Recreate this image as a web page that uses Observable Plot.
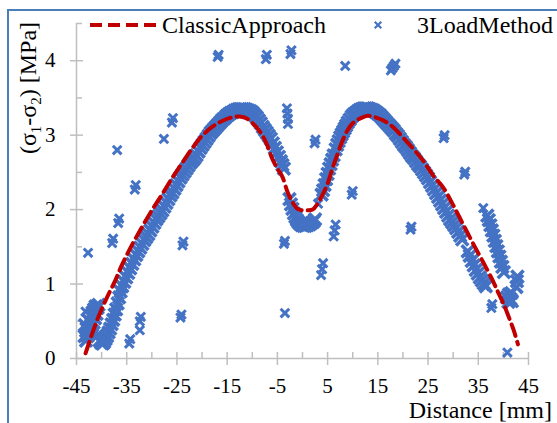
<!DOCTYPE html>
<html><head><meta charset="utf-8">
<script src="https://cdn.jsdelivr.net/npm/d3@7"></script>
<script src="https://cdn.jsdelivr.net/npm/@observablehq/plot@0.6"></script>
<style>
html,body{margin:0;padding:0;background:#fff;overflow:hidden;width:557px;height:423px;}
#wrap{position:relative;width:557px;height:423px;font-family:"Liberation Serif","Times New Roman",serif;color:#000;}
#frame{position:absolute;left:7px;top:9px;width:620px;height:520px;border:2px solid #4a7ebb;box-sizing:border-box;pointer-events:none;}
#chart{position:absolute;left:0;top:0;}
</style></head>
<body><div id="wrap"><div id="frame"></div><div id="chart"></div></div>
<script>
// ClassicApproach (red dashed curve)
const classicX = [-43.2,-42.2,-41.2,-40.2,-39.2,-38.2,-37.2,-36.0,-34.0,-32.0,-30.0,-28.0,-26.0,-24.0,-22.0,-20.0,-18.0,-16.0,-14.0,-12.5,-11.0,-9.5,-8.0,-7.0,-6.0,-5.0,-4.0,-3.0,-2.0,-1.0,0,1,2,3,4,5,6,7,8,9,10,11,12,13,14,16,18,20,22,24,26,28,30,32,34,36,38,39,40,41,42,42.9];
const classicY = [0.07,0.27,0.46,0.63,0.78,0.92,1.06,1.25,1.52,1.76,1.99,2.2,2.42,2.62,2.82,2.99,3.11,3.19,3.24,3.25,3.22,3.13,3.0,2.86,2.68,2.55,2.44,2.24,2.1,2.01,1.99,1.99,2.0,2.08,2.2,2.35,2.56,2.75,2.93,3.07,3.16,3.21,3.24,3.26,3.25,3.2,3.11,2.97,2.82,2.66,2.46,2.3,2.06,1.8,1.54,1.29,1.03,0.88,0.74,0.57,0.39,0.19];

// 3LoadMethod (blue x markers): dense main band of points
const bandX = [
 -43.4,-43.3,-43.1,-43.0,-42.8,-42.7,-42.5,-42.4,-42.2,-42.1,-41.9,-41.8,-41.6,-41.5,-41.3,-41.2,-41.0,-40.8,-40.6,
 -40.7,-40.4,-40.1,-39.8,-39.5,-39.2,-38.9,-38.6,-38.3,-38.0,-37.7,-37.4,-37.1,-36.8,-36.5,-36.2,-35.9,
 -35.5,-35.1,-34.7,-34.3,-33.9,-33.5,-33.1,-32.7,-32.3,-31.9,-31.5,-31.1,-30.7,-30.3,-29.9,-29.5,-29.1,-28.7,-28.3,-27.9,
 -27.5,-27.1,-26.7,-26.3,-25.9,-25.5,-25.1,-24.7,-24.3,-23.9,-23.5,-23.1,-22.7,-22.3,-21.9,-21.5,-21.1,-20.7,-20.3,-19.9,
 -19.5,-19.1,-18.7,-18.3,-17.9,-17.5,-17.1,-16.7,-16.3,-15.9,-15.5,-15.1,-14.7,-14.3,-13.9,-13.5,-13.1,-12.7,-12.3,-11.9,
 -11.5,-11.1,-10.7,-10.3,-9.9,-9.5,-9.1,-8.7,-8.3,-7.9,-7.5,-7.1,-6.7,-6.3,-5.9,-5.5,-5.1,-4.7,-4.3,-4.0,-3.7,
 -2.6,-2.3,-2.0,-1.7,-1.4,-1.1,-0.8,-0.5,-0.2,0.2,0.6,1.0,1.4,1.8,2.2,2.5,
 3.8,4.1,4.4,4.7,5.0,5.3,5.6,5.9,6.2,6.6,6.9,7.2,7.5,7.8,8.1,8.4,8.7,9.0,9.4,9.8,
 10.2,10.6,11.0,11.4,11.8,12.2,12.6,13.0,13.4,13.8,14.2,14.6,15.0,15.4,15.8,16.2,16.6,17.0,17.4,17.8,
 18.2,18.6,19.0,19.4,19.8,20.2,20.6,21.0,21.4,21.8,22.2,22.6,23.0,23.4,23.8,24.2,24.6,25.0,25.4,25.8,
 26.2,26.6,27.0,27.4,27.8,28.2,28.6,29.0,29.4,29.8,30.2,30.6,31.0,31.4,31.8,
 32.9,33.3,33.7,34.1,34.5,34.9,35.3,35.7,36.1,36.5,
 36.8,37.1,37.4,37.7,38.0,38.3,38.6,38.9,39.2,39.5,39.8,40.1,
 40.7,41.0,41.1,41.4,41.7,41.6,42.6,42.7,42.8
];
const bandY = [
 0.30,0.45,0.24,0.40,0.30,0.52,0.34,0.50,0.38,0.58,0.44,0.62,0.48,0.66,0.54,0.70,0.60,0.68,0.72,
 0.32,0.24,0.21,0.20,0.22,0.26,0.30,0.35,0.40,0.46,0.52,0.59,0.66,0.74,0.82,0.90,0.97,
 1.03,1.09,1.15,1.21,1.27,1.33,1.39,1.44,1.49,1.54,1.59,1.63,1.67,1.72,1.77,1.82,1.87,1.91,1.95,1.99,
 2.04,2.09,2.14,2.19,2.23,2.28,2.33,2.38,2.43,2.47,2.51,2.55,2.59,2.63,2.66,2.69,2.73,2.78,2.83,2.87,
 2.91,2.95,2.99,3.03,3.06,3.09,3.12,3.15,3.18,3.21,3.23,3.26,3.28,3.30,3.31,3.33,3.34,3.35,3.35,3.35,
 3.35,3.34,3.33,3.32,3.30,3.27,3.24,3.20,3.16,3.11,3.07,3.03,2.99,2.95,2.89,2.83,2.77,2.71,2.65,2.60,2.55,
 2.14,2.07,2.01,1.95,1.90,1.86,1.83,1.81,1.79,1.78,1.78,1.79,1.80,1.82,1.84,1.87,
 2.20,2.26,2.33,2.41,2.48,2.55,2.61,2.67,2.73,2.81,2.87,2.92,2.97,3.01,3.05,3.09,3.13,3.17,3.21,3.25,
 3.28,3.30,3.32,3.34,3.35,3.36,3.36,3.36,3.35,3.34,3.33,3.31,3.29,3.27,3.24,3.21,3.18,3.15,3.12,3.09,
 3.06,3.02,2.99,2.95,2.91,2.87,2.84,2.80,2.76,2.72,2.69,2.65,2.61,2.58,2.54,2.50,2.46,2.42,2.37,2.32,
 2.27,2.22,2.17,2.12,2.07,2.02,1.97,1.92,1.87,1.83,1.79,1.75,1.70,1.65,1.60,
 1.44,1.38,1.31,1.25,1.19,1.14,1.09,1.05,1.01,0.97,
 1.92,1.86,1.79,1.72,1.65,1.58,1.51,1.44,1.37,1.30,1.23,1.16,
 0.82,0.76,0.86,0.80,0.77,0.88,0.96,1.04,1.10
];
// 3LoadMethod: scattered points away from the band
const scatterX = [
 -43.2,-42.7,-37.9,-37.7,-36.7,-36.5,-36.9,-33.4,-33.2,-27.6,-26.0,-25.8,-23.9,-23.7,-24.3,-24.1,-34.5,-34.3,-32.4,-32.2,-32.4,
 -16.9,-16.7,-7.3,-7.1,-2.4,-2.2,8.5,17.6,17.9,18.2,18.5,-3.1,-3.0,-2.9,-2.9,2.4,2.6,9.8,10.0,3.1,-3.7,-3.5,
 6.2,6.4,6.6,3.7,3.9,4.1,-3.5,21.5,21.7,28.1,28.3,32.2,32.4,36.0,36.3,37.6,37.8,40.8
];
const scatterY = [
 0.63,1.42,1.55,1.61,1.82,1.88,2.80,2.27,2.33,2.95,3.17,3.23,1.52,1.57,0.55,0.59,0.20,0.26,0.50,0.56,0.38,
 4.05,4.08,4.02,4.08,4.09,4.14,3.93,3.87,3.90,3.93,3.96,3.36,3.29,3.22,3.15,2.89,2.94,2.20,2.25,2.08,1.54,1.58,
 1.64,1.72,1.80,1.12,1.20,1.28,0.61,1.73,1.77,2.96,3.00,2.47,2.51,2.02,0.97,0.68,0.73,0.08
];

const xMajor = [-45,-35,-25,-15,-5,5,15,25,35,45];
const xMinor = [-40,-30,-20,-10,0,10,20,30,40];
const yMajor = [0,1,2,3,4];
const yMinor = [0.5,1.5,2.5,3.5,4.5];
const seriesNames = ["ClassicApproach","3LoadMethod"];

const classic = classicX.map((x,i)=>({x, y: classicY[i]}));
const band = bandX.map((x,i)=>({x, y: bandY[i]}));
const scatter = scatterX.map((x,i)=>({x, y: scatterY[i]}));

const blue = "#4472C4", red = "#C00000", axisGray = "#bfbfbf";
const ff = "'Liberation Serif','Times New Roman',serif";

const chart = Plot.plot({
  width: 557, height: 423,
  marginLeft: 76, marginRight: 29, marginTop: 23, marginBottom: 65,
  x: {domain: [-45, 45]},
  y: {domain: [0, 4.5]},
  style: {fontFamily: ff, fontSize: "21px", color: "#000", background: "transparent", overflow: "visible"},
  marks: [
    Plot.ruleX([-45], {stroke: axisGray, strokeWidth: 1.5}),
    Plot.ruleY([0], {stroke: axisGray, strokeWidth: 1.5}),
    Plot.axisY({ticks: yMajor, tickSize: 13, dx: 7, tickFormat: () => "", stroke: axisGray, strokeWidth: 1.5, label: null}),
    Plot.axisY({ticks: yMinor, tickSize: 6, dx: 6, tickFormat: () => "", stroke: axisGray, strokeWidth: 1.5, label: null}),
    Plot.axisY({ticks: yMajor, tickSize: 0, tickPadding: 21, tickFormat: d => String(d), fontSize: 21, fill: "#000", label: null}),
    Plot.axisX({ticks: xMajor, tickSize: 13, dy: -6, tickFormat: () => "", stroke: axisGray, strokeWidth: 1.5, label: null}),
    Plot.axisX({ticks: xMinor, tickSize: 6, dy: -6, tickFormat: () => "", stroke: axisGray, strokeWidth: 1.5, label: null}),
    Plot.axisX({ticks: xMajor, tickSize: 0, tickPadding: 20, tickFormat: d => String(d), fontSize: 21, fill: "#000", label: null}),
    Plot.dot(scatter, {x: "x", y: "y", symbol: "times", r: 4, stroke: blue, strokeWidth: 3}),
    Plot.dot(band, {x: "x", y: "y", symbol: "times", r: 5.6, stroke: blue, strokeWidth: 3.6}),
    Plot.line(classic, {x: "x", y: "y", stroke: red, strokeWidth: 4, strokeDasharray: "12,6", curve: "catmull-rom"})
  ]
});
document.getElementById("chart").appendChild(chart);

// Titles and legend drawn into the same SVG
const svg = d3.select(chart);
// y-axis title
const yt = svg.append("text")
  .attr("transform", "translate(36,88) rotate(-90)")
  .attr("text-anchor", "middle").attr("font-family", ff).attr("font-size", 24).attr("fill", "#000");
yt.append("tspan").text("(σ");
yt.append("tspan").attr("font-size", 15).attr("dy", 5).text("1");
yt.append("tspan").attr("dy", -5).text("-σ");
yt.append("tspan").attr("font-size", 15).attr("dy", 5).text("2");
yt.append("tspan").attr("dy", -5).text(") [MPa]");
// x-axis title
svg.append("text").attr("x", 552).attr("y", 418).attr("text-anchor", "end")
  .attr("font-family", ff).attr("font-size", 24).attr("fill", "#000").text("Distance [mm]");
// legend
svg.append("line").attr("x1", 90).attr("x2", 157).attr("y1", 25).attr("y2", 25)
  .attr("stroke", red).attr("stroke-width", 4).attr("stroke-dasharray", "12,6");
svg.append("text").attr("x", 162).attr("y", 33).attr("text-anchor", "start").attr("font-family", ff).attr("font-size", 24).attr("fill", "#000").text(seriesNames[0]);
svg.append("path").attr("d", d3.symbol(d3.symbolTimes, 30)()).attr("transform", "translate(378,25)")
  .attr("fill", "none").attr("stroke", blue).attr("stroke-width", 2.2);
svg.append("text").attr("x", 417).attr("y", 33).attr("text-anchor", "start").attr("font-family", ff).attr("font-size", 24).attr("fill", "#000").text(seriesNames[1]);
</script></body></html>
